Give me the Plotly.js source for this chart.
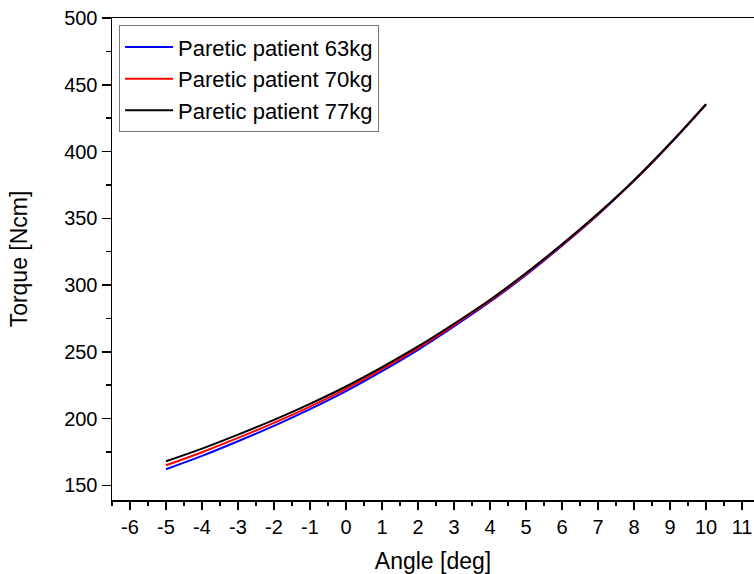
<!DOCTYPE html>
<html>
<head>
<meta charset="utf-8">
<script src="https://cdn.plot.ly/plotly-3.0.1.min.js"></script>
<style>html,body{margin:0;padding:0;background:#fff;overflow:hidden;}</style>
</head>
<body>
<div id="chart" style="width:754px;height:574px;"></div>
<script>
const angles = [-5,-4,-3,-2,-1,0,1,2,3,4,5,6,7,8,9,10];
const torque63 = [162,172,183,194.5,207,220.5,235.5,251.5,269,287.5,307.5,329.5,352.7,378,405.6,435.2];
const torque70 = [165,174.8,185.5,196.8,209,222.3,237,252.8,270,288.2,308.3,330,353.1,378.2,405.8,435.3];
const torque77 = [168,177.5,188,199,211,224,238.5,254,271,289,309,330.5,353.5,378.5,406,435.5];
const seriesNames = ['Paretic patient 63kg','Paretic patient 70kg','Paretic patient 77kg'];
const seriesColors = ['#0000ff','#ff0000','#000000'];
const xTicks = [-6,-5,-4,-3,-2,-1,0,1,2,3,4,5,6,7,8,9,10,11];
const yTicks = [150,200,250,300,350,400,450,500];

const series = [torque63, torque70, torque77];
const data = series.map((ys, i) => ({
  x: angles, y: ys, type: 'scatter', mode: 'lines',
  name: seriesNames[i],
  line: {color: seriesColors[i], width: 2, shape: 'spline'}
}));

const font = {family: 'Liberation Sans, Arial, sans-serif', color: '#000'};
const layout = {
  width: 754, height: 574,
  margin: {l: 112, r: 0, t: 18, b: 74},
  paper_bgcolor: '#fff', plot_bgcolor: '#fff',
  showlegend: true,
  legend: {
    x: 0.011, y: 0.985, xanchor: 'left', yanchor: 'top',
    bordercolor: '#777', borderwidth: 1, bgcolor: '#fff',
    font: {...font, size: 22}, tracegroupgap: 0, itemwidth: 48
  },
  xaxis: {
    range: [-6.5, 11.333], tickvals: xTicks, ticktext: xTicks.map(String),
    showgrid: false, zeroline: false,
    showline: true, linecolor: '#000', linewidth: 1.5, mirror: true,
    ticks: 'outside', ticklen: 8, tickwidth: 1.5, tickcolor: '#000',
    minor: {dtick: 0.5, tick0: 0, ticks: 'outside', ticklen: 4, tickwidth: 1.5, tickcolor: '#000', showgrid: false},
    tickfont: {...font, size: 20},
    title: {text: 'Angle [deg]', font: {...font, size: 23}, standoff: 20}
  },
  yaxis: {
    range: [139, 500], tickvals: yTicks, ticktext: yTicks.map(String),
    showgrid: false, zeroline: false,
    showline: true, linecolor: '#000', linewidth: 1.5, mirror: false,
    ticks: 'outside', ticklen: 9, tickwidth: 1.5, tickcolor: '#000',
    minor: {dtick: 25, tick0: 0, ticks: 'outside', ticklen: 5, tickwidth: 1.5, tickcolor: '#000', showgrid: false},
    tickfont: {...font, size: 20},
    title: {text: 'Torque [Ncm]', font: {...font, size: 23}, standoff: 30}
  }
};
Plotly.newPlot('chart', data, layout, {staticPlot: true, displayModeBar: false});
</script>
</body>
</html>
